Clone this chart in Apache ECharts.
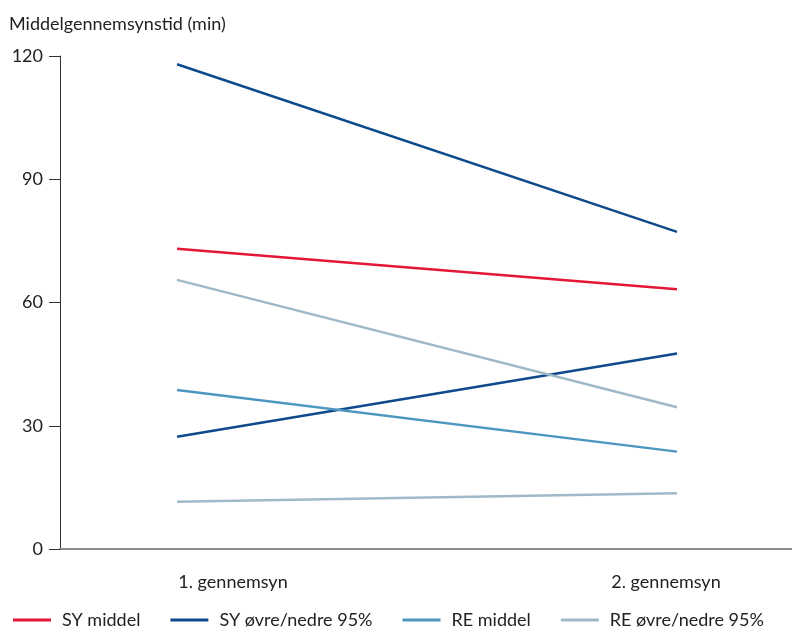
<!DOCTYPE html>
<html>
<head>
<meta charset="utf-8">
<script src="https://cdn.jsdelivr.net/npm/echarts@6/dist/echarts.min.js"></script>
<style>html,body{margin:0;padding:0;background:#fff}#c{width:792px;height:628px}</style>
</head>
<body>
<div id="c"></div>
<script>
const periods = ['1. gennemsyn', '2. gennemsyn'];
const positions = [1, 2];
const yTicks = [0, 30, 60, 90, 120];
const syMiddel = [73.1, 63.2];
const syOvre = [118.0, 77.2];
const syNedre = [27.3, 47.6];
const reMiddel = [38.7, 23.7];
const reOvre = [65.5, 34.5];
const reNedre = [11.5, 13.6];

const FONT = 'Lato';
const FS = 18;
const pair = (ys) => positions.map((x, i) => [x, ys[i]]);
const mk = (name, ys, color) => ({
  name, type: 'line', data: pair(ys), symbol: 'none',
  lineStyle: { color, width: 2.5, cap: 'butt' }, itemStyle: { color },
  emphasis: { disabled: true }, animation: false
});

const chart = echarts.init(document.getElementById('c'));
chart.setOption({
  animation: false,
  textStyle: { fontFamily: FONT },
  title: {
    text: 'Middelgennemsynstid (min)', left: 9, top: 15, padding: 0,
    textStyle: { fontFamily: FONT, fontSize: FS, fontWeight: 'normal', color: '#222' }
  },
  grid: { left: 60, right: 0, top: 56, bottom: 79 },
  xAxis: {
    type: 'value', min: 0.766, max: 2.23,
    splitLine: { show: false },
    axisTick: { show: false },
    axisLine: { show: true, lineStyle: { color: '#8a8a8a', width: 2 } },
    axisLabel: {
      customValues: positions,
      margin: 24,
      fontSize: FS, color: '#222', fontFamily: FONT,
      formatter: (v) => v === positions[0] ? '{a|' + periods[0] + '}' : '{b|' + periods[1] + '}',
      rich: {
        a: { fontSize: FS, color: '#222', fontFamily: FONT, padding: [0, 0, 0, 112] },
        b: { fontSize: FS, color: '#222', fontFamily: FONT, padding: [0, 22, 0, 0] }
      }
    }
  },
  yAxis: {
    type: 'value', min: yTicks[0], max: yTicks[yTicks.length - 1], interval: 30,
    splitLine: { show: false },
    axisLine: { show: true, lineStyle: { color: '#333', width: 1 } },
    axisTick: { show: true, length: 11, lineStyle: { color: '#333' } },
    axisLabel: { margin: 17, fontSize: FS, color: '#222', fontFamily: FONT }
  },
  legend: {
    left: 13, top: 611, padding: 0,
    itemWidth: 38, itemHeight: 3, itemGap: 30,
    icon: 'rect',
    data: ['SY middel', 'SY øvre/nedre 95%', 'RE middel', 'RE øvre/nedre 95%'],
    textStyle: { fontSize: FS, color: '#222', fontFamily: FONT, padding: [0, 0, 0, 6] }
  },
  series: [
    mk('SY middel', syMiddel, '#e31837'),
    mk('SY øvre/nedre 95%', syOvre, '#0d4a8c'),
    mk('SY øvre/nedre 95%', syNedre, '#0d4a8c'),
    mk('RE middel', reMiddel, '#4d96c0'),
    mk('RE øvre/nedre 95%', reOvre, '#a0b9c8'),
    mk('RE øvre/nedre 95%', reNedre, '#a0b9c8')
  ]
});
</script>
</body>
</html>
